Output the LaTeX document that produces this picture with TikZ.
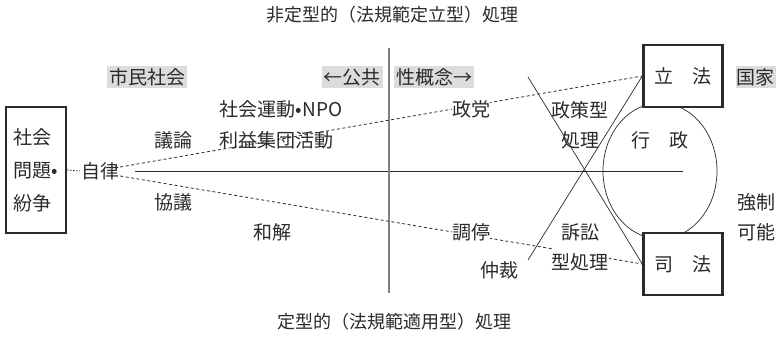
\documentclass[tikz,border=0pt]{standalone}
\usepackage{fontspec}
\setmainfont{Noto Sans CJK JP}
\usetikzlibrary{calc,shapes.geometric}
\definecolor{lbg}{HTML}{DCDCDC}
\definecolor{ink}{HTML}{2A2A2A}
\tikzset{
  lbl/.style={inner sep=1pt, font=\fontsize{19}{30}\selectfont, text=ink, align=center},
  ttl/.style={inner sep=1pt, font=\fontsize{18}{30}\selectfont, text=ink},
  gbox/.style={lbl, fill=lbg, inner xsep=2pt, inner ysep=2.5pt},
  thickbox/.style={draw=ink, line width=2.4pt, fill=white, minimum width=79pt, minimum height=62pt, font=\fontsize{19}{30}\selectfont, text=ink},
  dashln/.style={draw=ink, line width=0.8pt, dash pattern=on 3pt off 2.5pt},
  thinln/.style={draw=ink, line width=0.7pt}
}
\begin{document}
\begin{tikzpicture}[x=1pt,y=-1pt]
\useasboundingbox (0,0) rectangle (776,337);
% titles
\node[ttl] (top) at (392,15) {非定型的（法規範定立型）処理};
\node[ttl] (bot) at (394,322) {定型的（法規範適用型）処理};
% axes
\coordinate (hl) at (135,171);
\coordinate (hr) at (683,171);
\draw[thinln] (hl) -- (hr);
\coordinate (vt) at (389,48);
\coordinate (vb) at (389,293);
\draw[draw=gray, line width=1.4pt] (vt) -- (vb);
% ellipse (administration)
\node[draw=ink, line width=0.7pt, ellipse, minimum width=114pt, minimum height=136pt, inner sep=0pt] (gyosei) at (660,171) {};
% boxes
\node[thickbox] (rippo) at (683,76) {立\hspace{1em}法};
\node[thickbox] (shiho) at (683,264) {司\hspace{1em}法};
\node[draw=ink, line width=2.4pt, minimum width=60pt, minimum height=126pt, align=left, font=\fontsize{19}{33}\selectfont, text=ink, inner xsep=5pt] (prob) at (36,170) {社会\\問題•\\紛争};
% autonomy
\node[lbl] (jiritsu) at (100,171) {自律};
\draw[dashln, dash pattern=on 1.5pt off 1.5pt] (prob.east) -- (jiritsu.west);
\draw[dashln] ($(jiritsu.east)+(0,-4)$) -- (rippo.west);
\draw[dashln] ($(jiritsu.east)+(0,5)$) -- (shiho.west);
% X lines
\coordinate (xa) at (528,77);
\coordinate (xb) at (528,260);
\draw[thinln] (xa) -- (shiho.west);
\draw[thinln] (xb) -- (rippo.west);
% gray labels
\node[gbox] (shimin) at (147,77) {市民社会};
\node[gbox] (kokyo) at (352,77) {←公共};
\node[gbox] (gainen) at (434,77) {性概念→};
\node[gbox, anchor=east, inner xsep=1pt] (kokka) at (776,77) {国家};
% labels
\node[lbl] (npo) at (281,109) {社会運動•NPO};
\node[lbl] (rieki) at (276,140) {利益集団活動};
\node[lbl] (giron) at (173,140) {議論};
\node[lbl] (kyogi) at (173,202) {協議};
\node[lbl] (wakai) at (272,232) {和解};
\node[lbl, fill=white, inner xsep=0pt] (seito) at (471,109) {政党};
\node[lbl, fill=white, inner xsep=0pt] (chotei) at (471,232) {調停};
\node[lbl] (chusai) at (499,270) {仲裁};
\node[lbl] (seisaku) at (580,125) {政策型\\処理};
\node[lbl, fill=white, inner sep=0pt] (sosho) at (580,247) {訴訟\\型処理};
\node[lbl] (gyo) at (660,140) {行\hspace{1em}政};
\node[lbl] (kyosei) at (756,217) {強制\\可能};
\end{tikzpicture}
\end{document}
